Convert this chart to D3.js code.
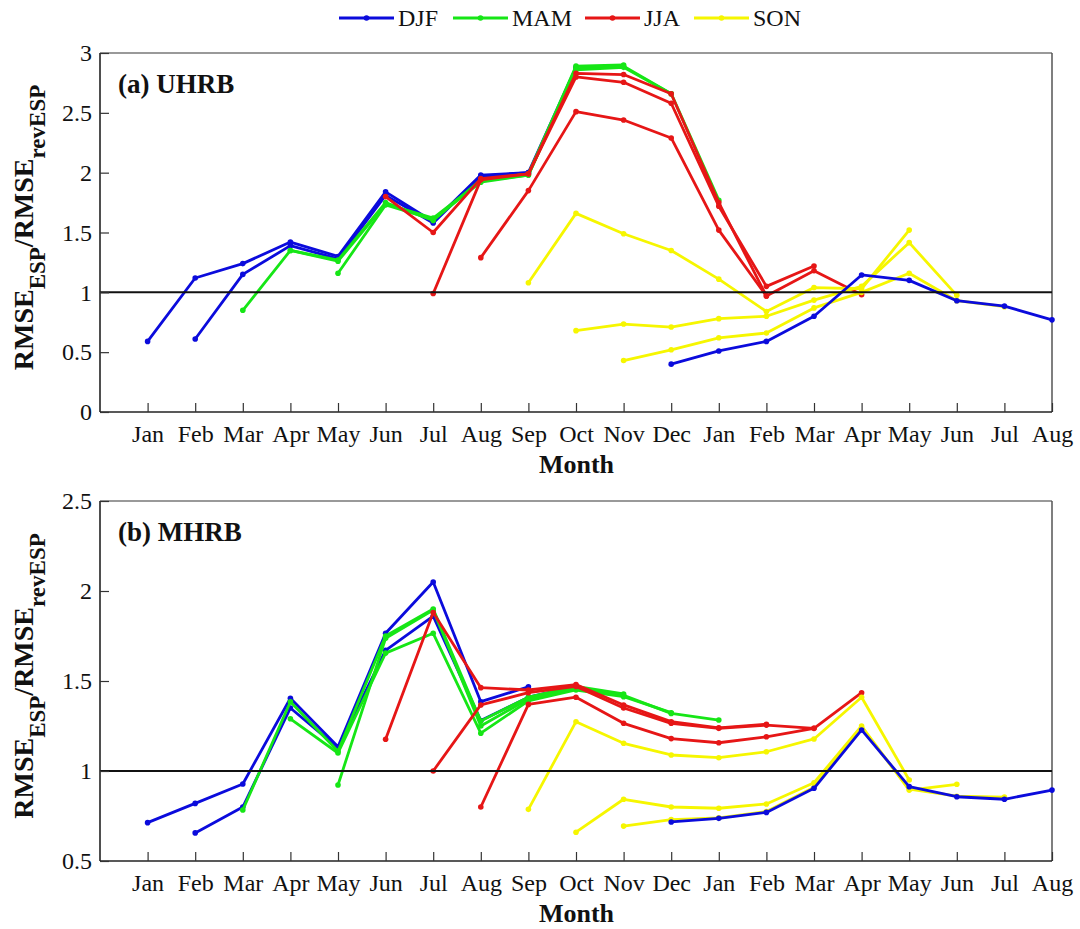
<!DOCTYPE html>
<html><head><meta charset="utf-8">
<script src="https://cdn.jsdelivr.net/npm/d3@7"></script>
<style>body{margin:0;background:#fff}svg{display:block}</style>
</head><body>
<script>
// ---------- DATA ----------
const monthLabels = ["Jan","Feb","Mar","Apr","May","Jun","Jul","Aug","Sep","Oct","Nov","Dec","Jan","Feb","Mar","Apr","May","Jun","Jul","Aug"];
const seasons = ["DJF","MAM","JJA","SON"];
const yTicksA = [0,0.5,1,1.5,2,2.5,3];
const yTicksB = [0.5,1,1.5,2,2.5];

// each line: start = month position (1 = Jan), values = 9 monthly ratios
const uhrbDJF = [
  {start:1,  values:[0.59,1.12,1.24,1.42,1.30,1.84,1.59,1.98,2.00]},
  {start:2,  values:[0.61,1.15,1.39,1.28,1.81,1.58,1.97,2.00,2.88]},
  {start:12, values:[0.40,0.51,0.59,0.80,1.145,1.10,0.93,0.885,0.77]}
];
const uhrbMAM = [
  {start:3, values:[0.85,1.35,1.27,1.75,1.60,1.94,1.99,2.89,2.90]},
  {start:4, values:[1.35,1.26,1.74,1.62,1.93,1.98,2.87,2.89,2.66]},
  {start:5, values:[1.16,1.73,1.61,1.92,1.98,2.86,2.88,2.66,1.77]}
];
const uhrbJJA = [
  {start:6, values:[1.80,1.50,1.95,1.99,2.83,2.82,2.66,1.75,0.97]},
  {start:7, values:[0.99,1.94,1.99,2.80,2.755,2.58,1.72,1.05,1.22]},
  {start:8, values:[1.29,1.85,2.51,2.44,2.29,1.52,0.97,1.18,0.98]}
];
const uhrbSON = [
  {start:9,  values:[1.08,1.66,1.49,1.35,1.11,0.84,1.04,1.03,1.52]},
  {start:10, values:[0.68,0.735,0.71,0.78,0.80,0.935,1.05,1.415,0.975]},
  {start:11, values:[0.43,0.52,0.62,0.66,0.87,1.00,1.16,0.93,0.88]}
];

const mhrbDJF = [
  {start:1,  values:[0.713,0.82,0.928,1.404,1.135,1.765,2.05,1.385,1.468]},
  {start:2,  values:[0.656,0.80,1.35,1.128,1.67,1.86,1.28,1.41,1.47]},
  {start:12, values:[0.717,0.737,0.77,0.904,1.228,0.913,0.857,0.843,0.894]}
];
const mhrbMAM = [
  {start:3, values:[0.783,1.385,1.11,1.75,1.90,1.278,1.41,1.47,1.428]},
  {start:4, values:[1.29,1.10,1.655,1.765,1.21,1.39,1.45,1.413,1.324]},
  {start:5, values:[0.922,1.737,1.894,1.25,1.40,1.46,1.42,1.32,1.283]}
];
const mhrbJJA = [
  {start:6, values:[1.176,1.88,1.463,1.45,1.48,1.367,1.274,1.24,1.26]},
  {start:7, values:[1.0,1.367,1.435,1.47,1.35,1.265,1.237,1.255,1.237]},
  {start:8, values:[0.80,1.37,1.41,1.265,1.18,1.157,1.19,1.237,1.435]}
];
const mhrbSON = [
  {start:9,  values:[0.787,1.274,1.154,1.089,1.074,1.107,1.178,1.41,0.95]},
  {start:10, values:[0.66,0.843,0.80,0.793,0.817,0.935,1.25,0.894,0.926]},
  {start:11, values:[0.694,0.73,0.74,0.775,0.91,1.24,0.90,0.86,0.855]}
];

// ---------- STYLE / LAYOUT ----------
const colors = {DJF:"#0b0bdc", MAM:"#16e616", JJA:"#e61616", SON:"#f6f600"};
const W = 1080, H = 929;
const font = "'Liberation Serif','Times New Roman',serif";
const svg = d3.select("body").append("svg").attr("width",W).attr("height",H);

const x = d3.scaleLinear().domain([0,20]).range([100,1052]);

function drawPanel(cfg){
  const y = d3.scaleLinear().domain(cfg.domain).range([cfg.bottom, cfg.top]);
  const g = svg.append("g");
  // frame
  g.append("line").attr("x1",x(0)).attr("x2",x(20)).attr("y1",cfg.top).attr("y2",cfg.top)
    .attr("stroke","#777").attr("stroke-width",1.5);
  g.append("line").attr("x1",x(20)).attr("x2",x(20)).attr("y1",cfg.top).attr("y2",cfg.bottom)
    .attr("stroke","#555").attr("stroke-width",1.5);

  // lines, drawn in order of start month
  const all = [];
  seasons.forEach(s => cfg.data[s].forEach(l => all.push({season:s, ...l})));
  all.sort((a,b)=>a.start-b.start);
  const line = d3.line().x(d=>x(d.m)).y(d=>y(d.v));
  all.forEach(l=>{
    const pts = l.values.map((v,i)=>({m:l.start+i, v}));
    g.append("path").datum(pts).attr("d",line).attr("fill","none")
      .attr("stroke",colors[l.season]).attr("stroke-width",2.8).attr("stroke-linejoin","round");
    g.selectAll(null).data(pts).enter().append("circle")
      .attr("cx",d=>x(d.m)).attr("cy",d=>y(d.v)).attr("r",2.8).attr("fill",colors[l.season]);
  });

  // reference line at 1
  g.append("line").attr("x1",x(0)).attr("x2",x(20)).attr("y1",y(1)).attr("y2",y(1))
    .attr("stroke","#111").attr("stroke-width",2);

  // axes (inward ticks)
  const xAxis = d3.axisBottom(x).tickValues(d3.range(1,21)).tickSize(-9).tickPadding(13)
    .tickFormat(d=>monthLabels[d-1]);
  const gx = g.append("g").attr("transform",`translate(0,${cfg.bottom})`).call(xAxis);
  const yAxis = d3.axisLeft(y).tickValues(cfg.ticks).tickSize(-9).tickPadding(8)
    .tickFormat(d3.format("~g"));
  const gy = g.append("g").attr("transform",`translate(${x(0)},0)`).call(yAxis);
  [gx,gy].forEach(a=>{
    a.select(".domain").attr("stroke","#222").attr("stroke-width",1.6);
    a.selectAll(".tick line").attr("stroke","#333").attr("stroke-width",1.2);
    a.selectAll("text").attr("font-family",font).attr("font-size",24).attr("fill","#111");
  });
  gy.selectAll(".domain").attr("d",`M0,${cfg.top}V${cfg.bottom}`);
  gx.selectAll(".domain").attr("d",`M${x(0)},0H${x(20)}`);

  // x title
  g.append("text").attr("x",(x(0)+x(20))/2+0.5).attr("y",cfg.bottom+61)
    .attr("text-anchor","middle").attr("font-family",font).attr("font-weight","bold")
    .attr("font-size",26).attr("fill","#111").text("Month");

  // y title with subscripts
  const cy = (cfg.top+cfg.bottom)/2 - 5;
  const t = g.append("text").attr("transform",`translate(33,${cy}) rotate(-90)`)
    .attr("text-anchor","middle").attr("font-family",font).attr("font-weight","bold")
    .attr("font-size",28).attr("fill","#111");
  t.append("tspan").text("RMSE");
  t.append("tspan").attr("font-size",23).attr("dy",12).text("ESP");
  t.append("tspan").attr("dy",-12).text("/RMSE");
  t.append("tspan").attr("font-size",23).attr("dy",12).text("revESP");

  // panel label
  g.append("text").attr("x",118).attr("y",cfg.top+40).attr("font-family",font)
    .attr("font-weight","bold").attr("font-size",27).attr("fill","#111").text(cfg.label);
}

drawPanel({top:53, bottom:412, domain:[0,3], ticks:yTicksA, label:"(a) UHRB",
  data:{DJF:uhrbDJF, MAM:uhrbMAM, JJA:uhrbJJA, SON:uhrbSON}});
drawPanel({top:501, bottom:861, domain:[0.5,2.5], ticks:yTicksB, label:"(b) MHRB",
  data:{DJF:mhrbDJF, MAM:mhrbMAM, JJA:mhrbJJA, SON:mhrbSON}});

// legend
const legX = [339, 453, 585, 694];
const lg = svg.append("g");
seasons.forEach((s,i)=>{
  const x0 = legX[i];
  lg.append("line").attr("x1",x0).attr("x2",x0+55).attr("y1",18).attr("y2",18)
    .attr("stroke",colors[s]).attr("stroke-width",2.8);
  lg.append("circle").attr("cx",x0+27.5).attr("cy",18).attr("r",2.8).attr("fill",colors[s]);
  lg.append("text").attr("x",x0+59).attr("y",26).attr("font-family",font)
    .attr("font-size",24).attr("fill","#111").text(s);
});
</script>
</body></html>
